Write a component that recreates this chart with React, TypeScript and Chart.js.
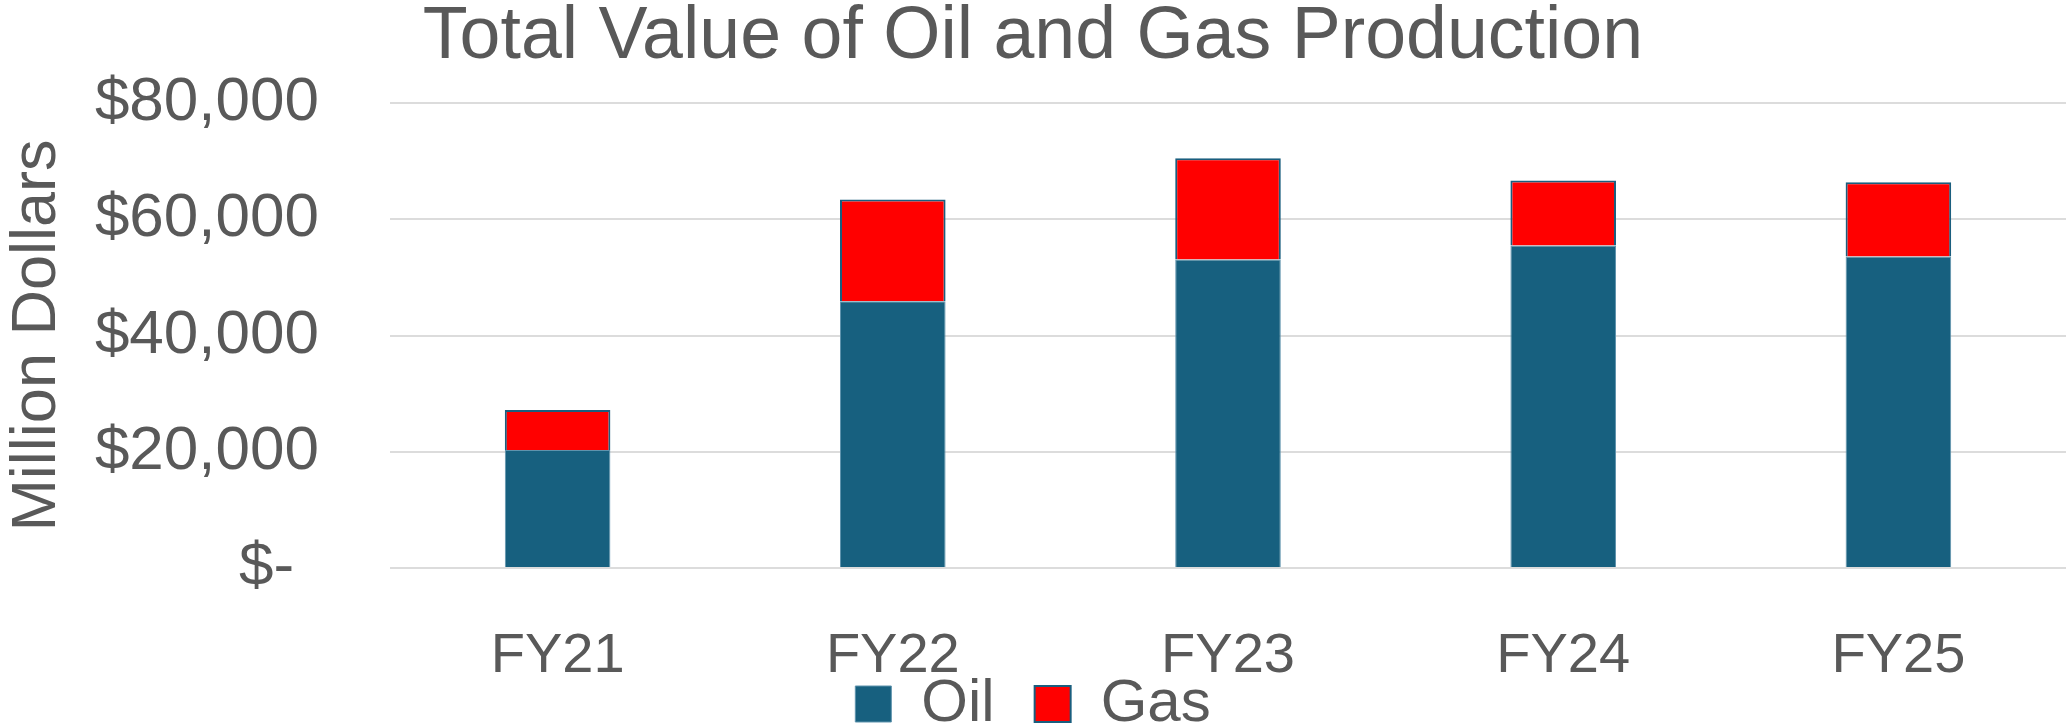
import React, { useEffect, useRef } from "react";
import { Chart, registerables } from "chart.js";

Chart.register(...registerables);

const categories = ["FY21", "FY22", "FY23", "FY24", "FY25"];
const oilValues = [20300, 45900, 53100, 55500, 53600];
const gasValues = [6900, 17500, 17400, 11200, 12800];
const yTickValues = [0, 20000, 40000, 60000, 80000];
const yTickLabels = ["$-\u2009\u2009", "$20,000", "$40,000", "$60,000", "$80,000"];

const TEXT = "#595959";
const FONT = "'Liberation Sans', Arial, sans-serif";

export default function App() {
  const ref = useRef<HTMLCanvasElement | null>(null);

  useEffect(() => {
    document.body.style.margin = "0";
    document.body.style.overflow = "hidden";
    const canvas = ref.current;
    if (!canvas) return;
    const chart = new Chart(canvas, {
      type: "bar",
      data: {
        labels: categories,
        datasets: [
          {
            label: "Oil",
            data: oilValues,
            backgroundColor: "#17607f",
            borderColor: "#5f93ad",
            borderWidth: 1,
            categoryPercentage: 1,
            barPercentage: 0.315,
          },
          {
            label: "Gas",
            data: gasValues,
            backgroundColor: "#ff0000",
            borderColor: "#1a5e7e",
            borderWidth: 2,
            categoryPercentage: 1,
            barPercentage: 0.315,
          },
        ],
      },
      options: {
        responsive: false,
        animation: false,
        devicePixelRatio: 1,
        layout: { padding: { left: 0, right: 0, top: 0, bottom: -17 } },
        plugins: {
          title: {
            display: true,
            text: "Total Value of Oil and Gas Production",
            color: TEXT,
            font: { family: FONT, size: 73.5, weight: "normal", lineHeight: 0.9 },
            padding: { top: 5, bottom: 32 },
          },
          legend: {
            position: "bottom",
            labels: {
              color: TEXT,
              font: { family: FONT, size: 60 },
              boxWidth: 36,
              boxHeight: 36,
              padding: 40,
            },
          },
          tooltip: { enabled: false },
        },
        scales: {
          x: {
            stacked: true,
            grid: { display: false, drawTicks: false },
            border: { display: false },
            ticks: {
              color: TEXT,
              font: { family: FONT, size: 56 },
              padding: 55,
              maxRotation: 0,
            },
            afterFit: (scale: any) => {
              scale.height = 66;
              scale._computeLabelArea = () => undefined;
            },
          },
          y: {
            stacked: true,
            min: 0,
            max: 80000,
            afterBuildTicks: (scale: any) => {
              scale.ticks = yTickValues.map((v) => ({ value: v }));
            },
            grid: { color: "#dcdcdc", lineWidth: 2, drawTicks: false },
            border: { display: false },
            ticks: {
              color: TEXT,
              font: { family: FONT, size: 62 },
              padding: 71,
              callback: (value: any) => {
                const i = yTickValues.indexOf(Number(value));
                return i >= 0 ? yTickLabels[i] : "";
              },
            },
            title: {
              display: true,
              text: "Million Dollars",
              color: TEXT,
              font: { family: FONT, size: 63 },
              padding: 0,
            },
            afterFit: (scale: any) => {
              scale.width = 390;
              scale.paddingTop = 37;
              scale.paddingBottom = 37;
            },
          },
        },
      },
    });
    return () => chart.destroy();
  }, []);

  return (
    <div style={{ width: 2066, height: 727 }}>
      <canvas ref={ref} width={2066} height={727} />
    </div>
  );
}
